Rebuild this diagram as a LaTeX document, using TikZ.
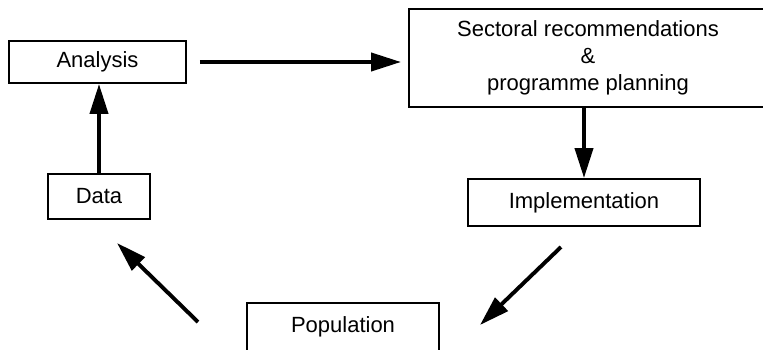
\documentclass[tikz,border=0pt]{standalone}
\usepackage{fontspec}
\setmainfont{Liberation Sans}
\usetikzlibrary{arrows.meta,calc}
\begin{document}
\begin{tikzpicture}[x=1pt,y=-1pt,
  box/.style={draw,line width=1.9pt,inner sep=0pt,font=\fontsize{22}{27}\selectfont,align=center},
  arr/.style={line width=3.9pt,-{Triangle[length=30pt,width=18pt]}}]
\useasboundingbox (0,0) rectangle (763,349);
\clip (0,0) rectangle (763,349);
\fill[white] (0,0) rectangle (763,349);
\node[box,minimum width=177pt,minimum height=42pt] (analysis) at (97.5,62) {Analysis};
\node[box,minimum width=102pt,minimum height=45pt] (data) at (99,196.5) {Data};
\node[box,minimum width=358pt,minimum height=98pt] (sect) at (588,58) {Sectoral recommendations\\\&\\programme planning};
\node[box,minimum width=232pt,minimum height=47pt] (impl) at (584,202.5) {Implementation};
\node[box,minimum width=192pt,minimum height=48pt] (pop) at (343,327) {Population};
\draw[arr] (data.north) -- (data.north |- analysis.south);
\draw[arr,shorten <=13pt,shorten >=7pt] (analysis.east) -- (analysis.east -| sect.west);
\draw[arr] (impl.north |- sect.south) -- (impl.north);
\coordinate (ipA) at (561,247);
\coordinate (ipB) at (480,325);
\draw[arr] (ipA) -- (ipB);
\coordinate (pdA) at (198,322);
\coordinate (pdB) at (117,243);
\draw[arr] (pdA) -- (pdB);
\end{tikzpicture}
\end{document}
